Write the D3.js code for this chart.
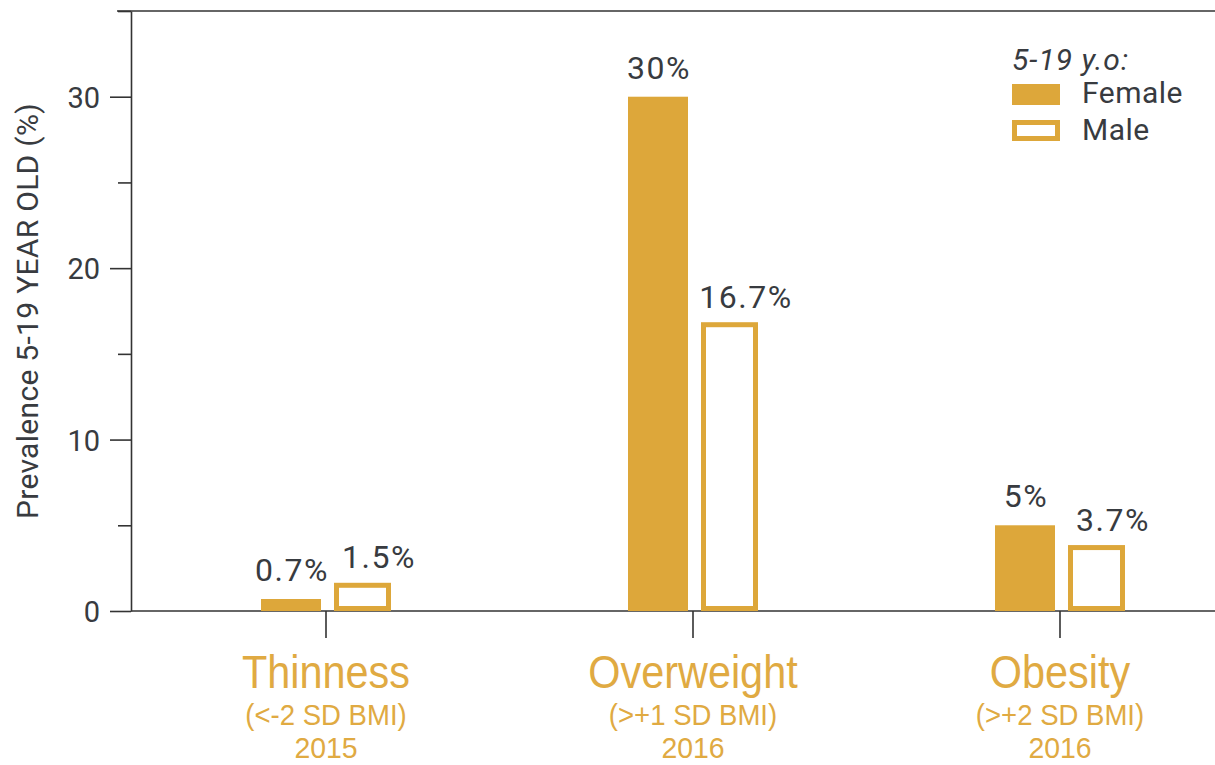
<!DOCTYPE html>
<html>
<head>
<meta charset="utf-8">
<script src="https://cdn.jsdelivr.net/npm/d3@7"></script>
<style>
  html, body { margin: 0; padding: 0; background: #fff; }
  svg { display: block; }
</style>
</head>
<body>
<svg id="chart" width="1215" height="765"></svg>
<script>
// ---- data ----
const categories = ["Thinness", "Overweight", "Obesity"];
const categorySub = ["(<-2 SD BMI)", "(>+1 SD BMI)", "(>+2 SD BMI)"];
const categoryYear = ["2015", "2016", "2016"];
const female = [0.7, 30, 5];
const male = [1.5, 16.7, 3.7];
const femaleLabels = ["0.7%", "30%", "5%"];
const maleLabels = ["1.5%", "16.7%", "3.7%"];
const yTicks = [0, 5, 10, 15, 20, 25, 30, 35];
const yTickLabels = ["0", "", "10", "", "20", "", "30", ""];
const legendTitle = "5-19 y.o:";
const seriesNames = ["Female", "Male"];
const yTitle = "Prevalence 5-19 YEAR OLD (%)";

// ---- style ----
const gold = "#DDA73A";
const goldText = "#E0AA42";
const dark = "#383b40";
const axisColor = "#333";
const sansFont = "Roboto, 'Open Sans', sans-serif";
const catFont = "'Liberation Sans', Arial, sans-serif";

const svg = d3.select("#chart");
const W = 1215;

const y = d3.scaleLinear().domain([0, 35]).range([611, 11]);
const x = d3.scalePoint().domain(categories).range([326, 1060]);

// top frame line
svg.append("line")
  .attr("x1", 117).attr("x2", W).attr("y1", y(35)).attr("y2", y(35))
  .attr("stroke", axisColor).attr("stroke-width", 1.6);

// y axis
const yAxis = d3.axisLeft(y)
  .tickValues(yTicks)
  .tickSizeOuter(0)
  .tickSizeInner(21)
  .tickPadding(10)
  .tickFormat((d, i) => yTickLabels[i]);
const gy = svg.append("g").attr("transform", "translate(131,0)").call(yAxis);
gy.select(".domain").attr("stroke", axisColor).attr("stroke-width", 1.6);
gy.selectAll(".tick line")
  .attr("stroke", axisColor).attr("stroke-width", 1.6)
  .attr("x2", (d, i) => yTickLabels[i] ? -21 : -13);
gy.selectAll(".tick text")
  .attr("fill", dark)
  .style("font-family", sansFont)
  .style("font-size", "29px")
  .attr("dy", "0.36em");

// x axis baseline + category ticks
svg.append("line")
  .attr("x1", 131).attr("x2", W).attr("y1", y(0)).attr("y2", y(0))
  .attr("stroke", axisColor).attr("stroke-width", 1.6);
svg.append("g").selectAll("line").data(categories).join("line")
  .attr("x1", d => x(d)).attr("x2", d => x(d))
  .attr("y1", y(0)).attr("y2", y(0) + 27)
  .attr("stroke", axisColor).attr("stroke-width", 1.6);

// bars
const fW = 60, mW = 52, sw = 5;
svg.append("g").selectAll("rect").data(categories).join("rect")
  .attr("x", d => x(d) - 65)
  .attr("width", fW)
  .attr("y", (d, i) => y(female[i]))
  .attr("height", (d, i) => y(0) - y(female[i]))
  .attr("fill", gold);

svg.append("g").selectAll("rect").data(categories).join("rect")
  .attr("x", d => x(d) + 10.5)
  .attr("width", mW)
  .attr("y", (d, i) => y(male[i]))
  .attr("height", (d, i) => y(0) - y(male[i]) - sw / 2)
  .attr("fill", "#fff")
  .attr("stroke", gold)
  .attr("stroke-width", sw);

// value labels
svg.append("g").selectAll("text").data(categories).join("text")
  .attr("x", d => x(d) - 34)
  .attr("y", (d, i) => y(female[i]) - 18)
  .attr("text-anchor", "middle")
  .attr("fill", dark)
  .style("font-family", sansFont)
  .style("font-size", "32px")
  .style("letter-spacing", "1.5px")
  .text((d, i) => femaleLabels[i]);

svg.append("g").selectAll("text").data(categories).join("text")
  .attr("x", d => x(d) + 53)
  .attr("y", (d, i) => y(male[i]) - 17)
  .attr("text-anchor", "middle")
  .attr("fill", dark)
  .style("font-family", sansFont)
  .style("font-size", "32px")
  .style("letter-spacing", "1.5px")
  .text((d, i) => maleLabels[i]);

// category labels (condensed look via horizontal scaling)
const cg = svg.append("g").selectAll("g").data(categories).join("g")
  .attr("transform", d => `translate(${x(d)},0)`);
cg.append("text")
  .attr("transform", "translate(0,688) scale(0.9,1)")
  .attr("text-anchor", "middle")
  .attr("fill", goldText).style("font-family", catFont).style("font-size", "46px")
  .text(d => d);
cg.append("text")
  .attr("transform", "translate(0,725) scale(0.95,1)")
  .attr("text-anchor", "middle")
  .attr("fill", goldText).style("font-family", catFont).style("font-size", "29px")
  .text((d, i) => categorySub[i]);
cg.append("text")
  .attr("transform", "translate(0,757.5) scale(0.98,1)")
  .attr("text-anchor", "middle")
  .attr("fill", goldText).style("font-family", catFont).style("font-size", "29px")
  .text((d, i) => categoryYear[i]);

// y title
svg.append("text")
  .attr("transform", "translate(38,311) rotate(-90)")
  .attr("text-anchor", "middle")
  .attr("fill", dark)
  .style("font-family", sansFont)
  .style("font-size", "30px")
  .style("letter-spacing", "0.3px")
  .text(yTitle);

// legend
const lg = svg.append("g");
lg.append("text").attr("x", 1012).attr("y", 70)
  .attr("fill", dark).style("font-family", sansFont)
  .style("font-size", "30px").style("font-style", "italic").style("letter-spacing", "1px")
  .text(legendTitle);
lg.append("rect").attr("x", 1012).attr("y", 84).attr("width", 48).attr("height", 21).attr("fill", gold);
lg.append("rect").attr("x", 1014.5).attr("y", 122.5).attr("width", 43).attr("height", 16)
  .attr("fill", "#fff").attr("stroke", gold).attr("stroke-width", sw);
lg.selectAll("text.ser").data(seriesNames).join("text").attr("class", "ser")
  .attr("x", 1082).attr("y", (d, i) => 103 + i * 37)
  .attr("fill", dark).style("font-family", sansFont)
  .style("font-size", "30px").style("letter-spacing", "0.5px")
  .text(d => d);
</script>
</body>
</html>
